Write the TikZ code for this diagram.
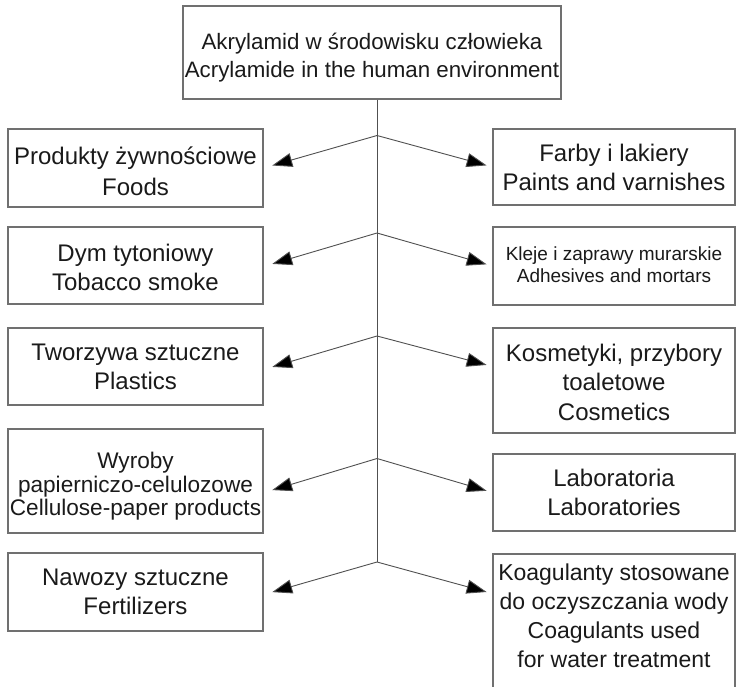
\documentclass[tikz,border=0pt]{standalone}
\usepackage{fontspec}
\setmainfont{Liberation Sans}
\usetikzlibrary{arrows.meta}
\definecolor{boxgray}{HTML}{707070}
\definecolor{linegray}{HTML}{505050}
\definecolor{txt}{HTML}{1A1A1A}
\tikzset{
  box/.style={draw=boxgray, line width=1.2pt, rectangle, inner sep=0pt},
  lbl/.style={inner sep=0pt, align=center, text=txt, font=\fontsize{24}{29}\selectfont},
  arr/.style={draw=linegray, line width=0.9pt, -{Triangle[length=20pt,width=14pt,fill=black]}},
  trunk/.style={draw=linegray, line width=0.9pt}
}
\begin{document}
\begin{tikzpicture}[x=1pt,y=-1pt]
\clip (0,0) rectangle (736,687);
\fill[white] (0,0) rectangle (736,687);
% boxes
\node[box, minimum width=378pt, minimum height=93pt] (top) at (372,52.5) {};
\node[box, minimum width=255pt, minimum height=78pt] (L1) at (135.5,168) {};
\node[box, minimum width=255pt, minimum height=77pt] (L2) at (135.5,265.5) {};
\node[box, minimum width=255pt, minimum height=77pt] (L3) at (135.5,366.5) {};
\node[box, minimum width=255pt, minimum height=104pt] (L4) at (135.5,481) {};
\node[box, minimum width=255pt, minimum height=78pt] (L5) at (135.5,592) {};
\node[box, minimum width=242pt, minimum height=76pt] (R1) at (614,167) {};
\node[box, minimum width=242pt, minimum height=78pt] (R2) at (614,266) {};
\node[box, minimum width=242pt, minimum height=105pt] (R3) at (614,380.5) {};
\node[box, minimum width=242pt, minimum height=77pt] (R4) at (614,492.5) {};
\node[box, minimum width=242pt, minimum height=146pt] (R5) at (614,627) {};
% texts
\node[lbl, font=\fontsize{22.3}{28}\selectfont] (topt) at ([yshift=-5.5pt]top.center)
  {Akrylamid w środowisku człowieka\\Acrylamide in the human environment};
\node[lbl, font=\fontsize{24}{31}\selectfont] (L1t) at ([yshift=-3pt]L1.center) {Produkty żywnościowe\\Foods};
\node[lbl] (L2t) at ([yshift=-1.7pt]L2.center) {Dym tytoniowy\\Tobacco smoke};
\node[lbl] (L3t) at (L3.center) {Tworzywa sztuczne\\Plastics};
\node[lbl, font=\fontsize{22.6}{23.5}\selectfont] (L4t) at ([yshift=-5.3pt]L4.center) {Wyroby\\papierniczo-celulozowe\\Cellulose-paper products};
\node[lbl] (L5t) at (L5.center) {Nawozy sztuczne\\Fertilizers};
\node[lbl] (R1t) at (R1.center) {Farby i lakiery\\Paints and varnishes};
\node[lbl, font=\fontsize{19}{22}\selectfont] (R2t) at ([yshift=1.5pt]R2.center) {Kleje i zaprawy murarskie\\Adhesives and mortars};
\node[lbl, font=\fontsize{24}{29.5}\selectfont] (R3t) at ([yshift=-1.7pt]R3.center) {Kosmetyki, przybory\\toaletowe\\Cosmetics};
\node[lbl] (R4t) at (R4.center) {Laboratoria\\Laboratories};
\node[lbl, font=\fontsize{23}{29}\selectfont] (R5t) at ([yshift=11.2pt]R5.center) {Koagulanty stosowane\\do oczyszczania wody\\Coagulants used\\for water treatment};
% trunk
\coordinate (b1) at (377,135.5);
\coordinate (b2) at (377,233);
\coordinate (b3) at (377,336);
\coordinate (b4) at (377,458.5);
\coordinate (b5) at (377,562);
\draw[trunk] ([xshift=5pt]top.south) -- (b5);
% arrows
\draw[arr, shorten >=9pt] (b1) -- (L1.east);
\draw[arr, shorten >=9pt] (b2) -- ([yshift=-1pt]L2.east);
\draw[arr, shorten >=9pt] (b3) -- ([yshift=-3pt]L3.east);
\draw[arr, shorten >=9pt] (b4) -- ([yshift=-11.7pt]L4.east);
\draw[arr, shorten >=9pt] (b5) -- ([yshift=-2.6pt]L5.east);
\draw[arr, shorten >=6pt] (b1) -- (R1.west);
\draw[arr, shorten >=6pt] (b2) -- (R2.west);
\draw[arr, shorten >=6pt] (b3) -- ([yshift=14pt]R3.west);
\draw[arr, shorten >=6pt] (b4) -- (R4.west);
\draw[arr, shorten >=6pt] (b5) -- ([yshift=33.4pt]R5.west);
\end{tikzpicture}
\end{document}
